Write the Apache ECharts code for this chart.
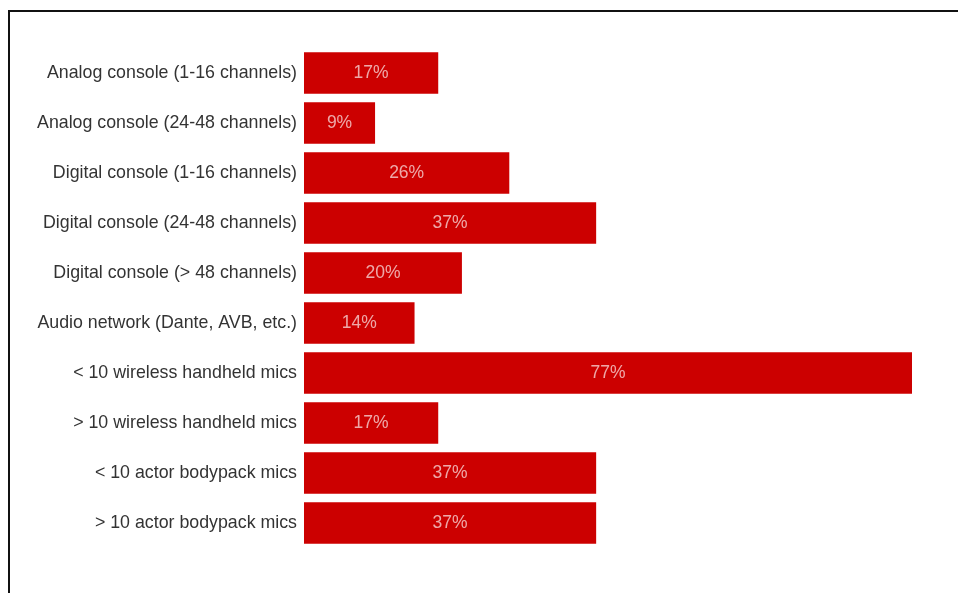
<!DOCTYPE html>
<html>
<head>
<meta charset="utf-8">
<style>
  html, body { margin: 0; padding: 0; background: #fff; }
  #chart { width: 958px; height: 593px; }
</style>
<script src="https://cdn.jsdelivr.net/npm/echarts@6/dist/echarts.min.js"></script>
</head>
<body>
<div id="chart"></div>
<script>
// Equipment categories, top to bottom
var categories = [
  'Analog console (1-16 channels)',
  'Analog console (24-48 channels)',
  'Digital console (1-16 channels)',
  'Digital console (24-48 channels)',
  'Digital console (> 48 channels)',
  'Audio network (Dante, AVB, etc.)',
  '< 10 wireless handheld mics',
  '> 10 wireless handheld mics',
  '< 10 actor bodypack mics',
  '> 10 actor bodypack mics'
];

// Share of respondents, percent
var shares = [17, 9, 26, 37, 20, 14, 77, 17, 37, 37];

var chart = echarts.init(document.getElementById('chart'), null, { renderer: 'canvas' });

chart.setOption({
  animation: false,
  textStyle: { fontFamily: 'Liberation Sans, Arial, sans-serif' },
  graphic: [{
    type: 'rect',
    silent: true,
    shape: { x: 9, y: 11, width: 1200, height: 1200 },
    style: { fill: 'none', stroke: '#111', lineWidth: 2 }
  }],
  grid: { left: 304, right: 46, top: 48, bottom: 45, containLabel: false },
  xAxis: {
    type: 'value',
    min: 0,
    max: 77,
    show: false
  },
  yAxis: {
    type: 'category',
    data: categories,
    inverse: true,
    axisLine: { show: false },
    axisTick: { show: false },
    axisLabel: { color: '#333', fontSize: 17.8, margin: 7 }
  },
  series: [{
    type: 'bar',
    data: shares,
    barCategoryGap: '17%',
    itemStyle: { color: '#cc0000' },
    label: {
      show: true,
      position: 'inside',
      formatter: '{c}%',
      color: 'rgba(255,255,255,0.66)',
      fontSize: 17.5
    }
  }]
});
</script>
</body>
</html>
